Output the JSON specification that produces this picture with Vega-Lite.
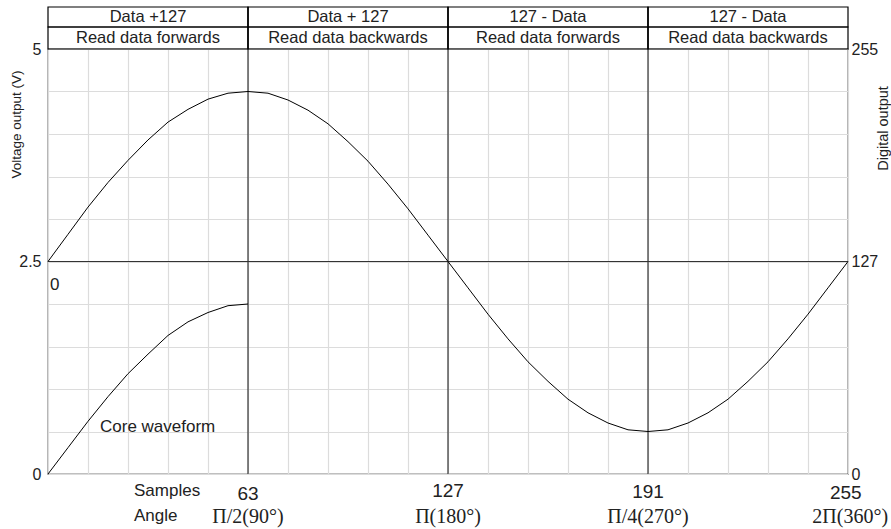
{
  "$schema": "https://vega.github.io/schema/vega-lite/v6.json",
  "width": 800,
  "height": 425,
  "autosize": {"type": "none"},
  "padding": {"left": 48, "top": 49, "right": 43, "bottom": 55},
  "background": "white",
  "config": {
    "view": {"stroke": "black", "strokeWidth": 1.2},
    "font": "Liberation Sans",
    "axis": {"labelFont": "Liberation Sans", "titleFont": "Liberation Sans", "labelColor": "#222", "titleColor": "#222", "titleFontWeight": "normal"}
  },
  "datasets": {
    "main": [
      {"a": 0, "v": 2.5}, {"a": 9, "v": 2.82}, {"a": 18, "v": 3.14}, {"a": 27, "v": 3.43}, {"a": 36, "v": 3.69},
      {"a": 45, "v": 3.93}, {"a": 54, "v": 4.14}, {"a": 63, "v": 4.29}, {"a": 72, "v": 4.41}, {"a": 81, "v": 4.48},
      {"a": 90, "v": 4.5}, {"a": 99, "v": 4.48}, {"a": 108, "v": 4.4}, {"a": 117, "v": 4.28}, {"a": 126, "v": 4.12},
      {"a": 135, "v": 3.91}, {"a": 144, "v": 3.68}, {"a": 153, "v": 3.41}, {"a": 162, "v": 3.12}, {"a": 171, "v": 2.81},
      {"a": 180, "v": 2.5}, {"a": 189, "v": 2.19}, {"a": 198, "v": 1.88}, {"a": 207, "v": 1.59}, {"a": 216, "v": 1.32},
      {"a": 225, "v": 1.09}, {"a": 234, "v": 0.88}, {"a": 243, "v": 0.72}, {"a": 252, "v": 0.6}, {"a": 261, "v": 0.52},
      {"a": 270, "v": 0.5}, {"a": 279, "v": 0.52}, {"a": 288, "v": 0.6}, {"a": 297, "v": 0.72}, {"a": 306, "v": 0.88},
      {"a": 315, "v": 1.09}, {"a": 324, "v": 1.32}, {"a": 333, "v": 1.59}, {"a": 342, "v": 1.88}, {"a": 351, "v": 2.19},
      {"a": 360, "v": 2.5}
    ],
    "core": [
      {"a": 0, "v": 0}, {"a": 9, "v": 0.31}, {"a": 18, "v": 0.62}, {"a": 27, "v": 0.91}, {"a": 36, "v": 1.18},
      {"a": 45, "v": 1.41}, {"a": 54, "v": 1.63}, {"a": 63, "v": 1.79}, {"a": 72, "v": 1.9}, {"a": 81, "v": 1.98},
      {"a": 90, "v": 2.0}
    ],
    "rules": [
      {"a": 90, "v": 0, "a2": 90, "v2": 5.494},
      {"a": 180, "v": 0, "a2": 180, "v2": 5.494},
      {"a": 270, "v": 0, "a2": 270, "v2": 5.494},
      {"a": 0, "v": 2.5, "a2": 360, "v2": 2.5}
    ],
    "boxes": [
      {"a": 0, "a2": 90, "v": 5.259, "v2": 5.494}, {"a": 90, "a2": 180, "v": 5.259, "v2": 5.494},
      {"a": 180, "a2": 270, "v": 5.259, "v2": 5.494}, {"a": 270, "a2": 360, "v": 5.259, "v2": 5.494},
      {"a": 0, "a2": 90, "v": 5.0, "v2": 5.259}, {"a": 90, "a2": 180, "v": 5.0, "v2": 5.259},
      {"a": 180, "a2": 270, "v": 5.0, "v2": 5.259}, {"a": 270, "a2": 360, "v": 5.0, "v2": 5.259}
    ],
    "headers": [
      {"a": 45, "v": 5.376, "t": "Data +127"}, {"a": 135, "v": 5.376, "t": "Data + 127"},
      {"a": 225, "v": 5.376, "t": "127 - Data"}, {"a": 315, "v": 5.376, "t": "127 - Data"},
      {"a": 45, "v": 5.129, "t": "Read data forwards"}, {"a": 135, "v": 5.129, "t": "Read data backwards"},
      {"a": 225, "v": 5.129, "t": "Read data forwards"}, {"a": 315, "v": 5.129, "t": "Read data backwards"}
    ],
    "samples": [
      {"a": 90, "v": -0.23, "t": "63"}, {"a": 180, "v": -0.2, "t": "127"},
      {"a": 270, "v": -0.21, "t": "191"}, {"a": 359, "v": -0.22, "t": "255"}
    ],
    "angles": [
      {"a": 90, "v": -0.506, "t": "Π/2(90°)"}, {"a": 180, "v": -0.506, "t": "Π(180°)"},
      {"a": 270, "v": -0.506, "t": "Π/4(270°)"}, {"a": 361, "v": -0.506, "t": "2Π(360°)"}
    ],
    "notes": [
      {"a": 38.7, "v": -0.2, "t": "Samples"}, {"a": 38.7, "v": -0.494, "t": "Angle"},
      {"a": 0.9, "v": 2.22, "t": "0"}, {"a": 23.4, "v": 0.553, "t": "Core waveform"}
    ]
  },
  "resolve": {"axis": {"y": "independent", "x": "independent"}},
  "layer": [
    {
      "encoding": {
        "x": {"field": "a", "type": "quantitative", "scale": {"domain": [0, 360], "nice": false, "zero": false},
          "axis": {"values": [0, 18, 36, 54, 72, 90, 108, 126, 144, 162, 180, 198, 216, 234, 252, 270, 288, 306, 324, 342, 360],
            "grid": true, "gridColor": "#dcdcdc", "gridWidth": 1.2, "labels": false, "ticks": false, "domain": false, "title": null}},
        "y": {"field": "v", "type": "quantitative", "scale": {"domain": [0, 5], "nice": false, "zero": false},
          "axis": {"values": [0, 0.5, 1, 1.5, 2, 2.5, 3, 3.5, 4, 4.5, 5], "grid": true, "gridColor": "#dcdcdc", "gridWidth": 1.2,
            "ticks": false, "domain": false, "labelFontSize": 16, "labelPadding": 7, "labelFlush": false,
            "labelExpr": "datum.value == 0 ? '0' : datum.value == 2.5 ? '2.5' : datum.value == 5 ? '5' : ''",
            "title": "Voltage output (V)", "titleFontSize": 13.5, "titleAngle": -90, "titleX": -32, "titleY": 75,
            "titleAlign": "center", "titleBaseline": "middle"}}
      },
      "layer": [
        {"data": {"name": "rules"}, "mark": {"type": "rule", "color": "#333", "strokeWidth": 1.2},
          "encoding": {"x2": {"field": "a2"}, "y2": {"field": "v2"}}},
        {"data": {"name": "boxes"}, "mark": {"type": "rect", "fill": null, "fillOpacity": 0, "stroke": "black", "strokeWidth": 1.2},
          "encoding": {"x2": {"field": "a2"}, "y2": {"field": "v2"}}},
        {"data": {"name": "main"}, "mark": {"type": "line", "color": "black", "strokeWidth": 1}, "encoding": {}},
        {"data": {"name": "core"}, "mark": {"type": "line", "color": "black", "strokeWidth": 1}, "encoding": {}},
        {"data": {"name": "headers"}, "mark": {"type": "text", "fontSize": 16.5, "color": "#222", "align": "center", "baseline": "middle"},
          "encoding": {"text": {"field": "t"}}},
        {"data": {"name": "samples"}, "mark": {"type": "text", "fontSize": 19, "color": "#222", "align": "center", "baseline": "middle"},
          "encoding": {"text": {"field": "t"}}},
        {"data": {"name": "angles"}, "mark": {"type": "text", "font": "Liberation Serif", "fontSize": 20, "color": "#222", "align": "center", "baseline": "middle"},
          "encoding": {"text": {"field": "t"}}},
        {"data": {"name": "notes"}, "mark": {"type": "text", "fontSize": 17, "color": "#222", "align": "left", "baseline": "middle"},
          "encoding": {"text": {"field": "t"}}}
      ]
    },
    {
      "data": {"name": "main"},
      "mark": {"type": "line", "opacity": 0},
      "encoding": {
        "x": {"field": "a", "type": "quantitative", "axis": null},
        "y": {"field": "v", "type": "quantitative",
          "axis": {"orient": "right", "values": [0, 2.5, 5], "grid": false, "ticks": false, "domain": false,
            "labelFontSize": 16, "labelPadding": 3, "labelFlush": false,
            "labelExpr": "datum.value == 5 ? '255' : datum.value == 2.5 ? '127' : '0'",
            "title": "Digital output", "titleFontSize": 14.5, "titleAngle": -90, "titleX": 35, "titleY": 79,
            "titleAlign": "center", "titleBaseline": "middle"}}
      }
    }
  ]
}
